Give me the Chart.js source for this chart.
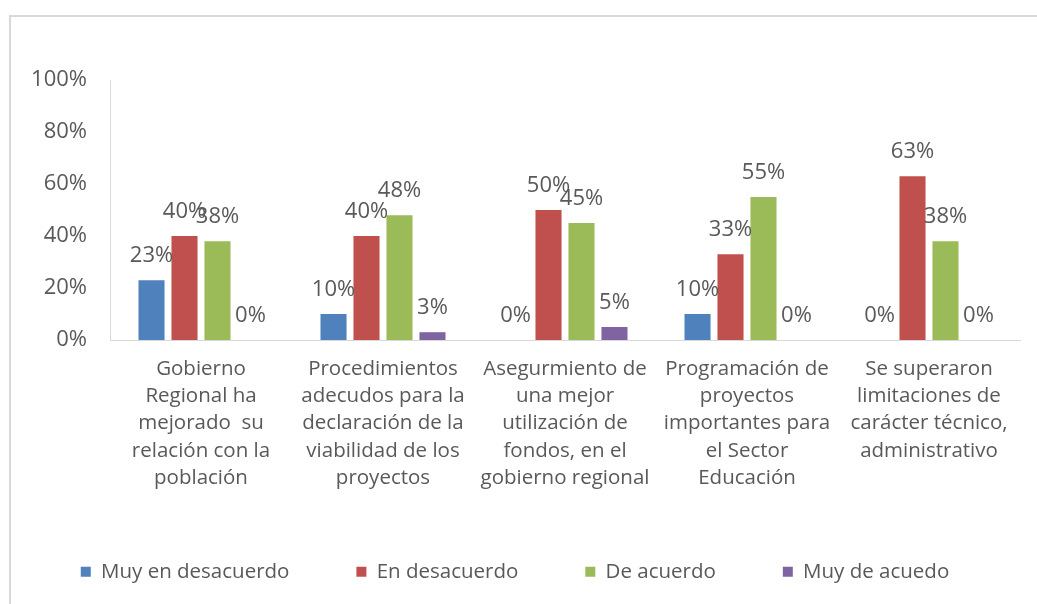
<!DOCTYPE html>
<html lang="es">
  <head>
    <meta charset="UTF-8" />
    <title>Encuesta - Gobierno Regional</title>
    <style>
      html, body { margin: 0; padding: 0; background: #fff; overflow: hidden; }
      .frame {
        position: absolute;
        left: 9px;
        top: 15px;
        width: 1100px;
        height: 700px;
        border: 2px solid #d9d9d9;
      }
      #myChart { position: absolute; left: 0; top: 0; }
    </style>
  </head>
  <body>
    <div class="frame"></div>
    <canvas id="myChart" width="1037" height="604"></canvas>

    <script src="https://cdn.jsdelivr.net/npm/chart.js@4/dist/chart.umd.min.js"></script>
    <script>
      // categories (one array of lines per label)
      var categories = [
        ["Gobierno", "Regional ha", "mejorado  su", "relación con la", "población"],
        ["Procedimientos", "adecudos para la", "declaración de la", "viabilidad de los", "proyectos"],
        ["Asegurmiento de", "una mejor", "utilización de", "fondos, en el", "gobierno regional"],
        ["Programación de", "proyectos", "importantes para", "el Sector", "Educación"],
        ["Se superaron", "limitaciones de", "carácter técnico,", "administrativo"]
      ];

      // series values (%)
      var muyEnDesacuerdo = [23, 10, 0, 10, 0];
      var enDesacuerdo = [40, 40, 50, 33, 63];
      var deAcuerdo = [38, 48, 45, 55, 38];
      var muyDeAcuedo = [0, 3, 5, 0, 0];

      var yTicks = [0, 20, 40, 60, 80, 100];

      var textColor = "#595959";
      var fontFamily = "'Open Sans', sans-serif";
      var legendPad = 67;

      // draws the value above each bar
      var barLabels = {
        id: "barLabels",
        afterDatasetsDraw: function (chart) {
          var ctx = chart.ctx;
          ctx.save();
          ctx.font = "22px " + fontFamily;
          ctx.fillStyle = textColor;
          ctx.textAlign = "center";
          ctx.textBaseline = "alphabetic";
          chart.data.datasets.forEach(function (ds, i) {
            var meta = chart.getDatasetMeta(i);
            meta.data.forEach(function (bar, j) {
              ctx.fillText(ds.data[j] + "%", bar.x, bar.y - 18);
            });
          });
          ctx.restore();
        }
      };

      var ctx = document.getElementById("myChart").getContext("2d");
      var myChart = new Chart(ctx, {
        type: "bar",
        data: {
          labels: categories,
          datasets: [
            { label: "Muy en desacuerdo", data: muyEnDesacuerdo, backgroundColor: "#4F81BD" },
            { label: "En desacuerdo", data: enDesacuerdo, backgroundColor: "#C0504D" },
            { label: "De acuerdo", data: deAcuerdo, backgroundColor: "#9BBB59" },
            { label: "Muy de acuedo", data: muyDeAcuedo, backgroundColor: "#8064A2" }
          ]
        },
        options: {
          responsive: false,
          animation: false,
          categoryPercentage: 0.725,
          barPercentage: 0.79,
          layout: { padding: { left: 10, right: 17, top: 80, bottom: 12 } },
          plugins: {
            tooltip: { enabled: false },
            legend: {
              position: "bottom",
              labels: {
                boxWidth: 10,
                boxHeight: 10,
                padding: legendPad,
                color: textColor,
                font: { family: fontFamily, size: 20.5 }
              }
            }
          },
          scales: {
            x: {
              grid: { display: false, drawTicks: false },
              border: { display: true, color: "#d9d9d9", width: 1 },
              ticks: {
                color: textColor,
                font: { family: fontFamily, size: 20.5, lineHeight: 1.32 },
                padding: 16,
                maxRotation: 0,
                autoSkip: false
              },
              // keep the plot bottom at the same place whatever the legend spacing
              afterFit: function (scale) { scale.height = 604 - 12 - (30.5 + legendPad) - 340; }
            },
            y: {
              min: 0,
              max: 100,
              grid: { display: false, drawTicks: false },
              border: { display: true, color: "#d9d9d9", width: 1 },
              afterBuildTicks: function (scale) {
                scale.ticks = yTicks.map(function (v) { return { value: v }; });
              },
              ticks: {
                color: textColor,
                font: { family: fontFamily, size: 22 },
                padding: 23,
                callback: function (v) { return v + "%"; }
              },
              afterFit: function (scale) { scale.width = 100; }
            }
          }
        },
        plugins: [barLabels]
      });
    </script>
  </body>
</html>
